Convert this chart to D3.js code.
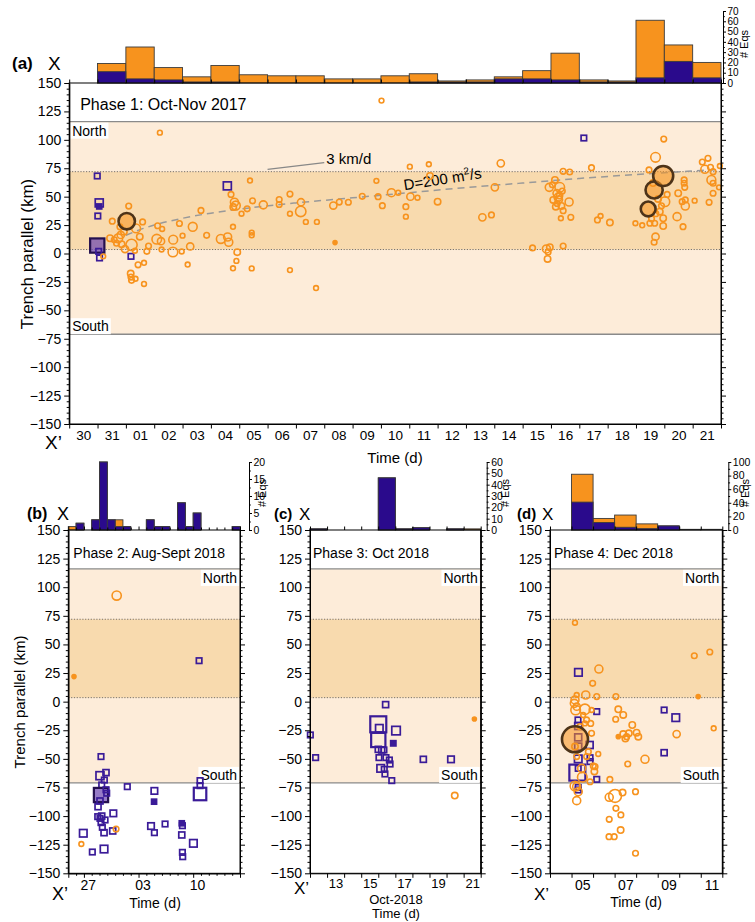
<!DOCTYPE html>
<html><head><meta charset="utf-8">
<script src="https://cdn.jsdelivr.net/npm/d3@7"></script>
<style>
body{margin:0;background:#fff;}
svg{display:block;}
text{font-family:'Liberation Sans',Arial,Helvetica,sans-serif;}
</style>
</head><body>
<svg id="c" width="755" height="922"></svg>
<script>
// ---------------- DATA ----------------
// Time in days from the start of each panel's window; km = trench-parallel distance; mag = event size class
// Phase 1: window starts 30 Oct 2017 00:00
const phase1DayLabels = ["30","31","01","02","03","04","05","06","07","08","09","10","11","12","13","14","15","16","17","18","19","20","21"];
const phase1HistTotal = [0,19,35,15,6,17,8,7,7,4,4,7,9,2,3,6,12,29,3,2,61,37,20];
const phase1HistBlue  = [0,11,4,3,1,1,0,0,0,0,0,0,1,1,1,4,4,3,1,1,5,21,5];
const phase1HistTicks = [0,10,20,30,40,50,60,70];
// [t, km, mag]
const phase1Circles = [
[3.2,106.3,1.2],[2.1,41.7,1.4],[2.03,28.4,4.1],[1.52,28.4,1.4],[1.44,13.4,1.6],[1.59,12,1.4],[1.67,9.1,1.4],
[1.73,13.4,2.2],[1.82,16.3,1.8],[1.93,19.2,1.6],[1.85,8.2,1.6],[1.97,3.9,1.8],[1.79,23.5,1.4],[2.2,7.6,2.8],
[2.36,22.1,2.2],[2.32,2.4,1.2],[2.49,14.8,1.6],[2.59,27.8,1.4],[2.74,1.9,1.4],[2.8,6.5,1.4],[2.43,-10,1.4],
[2.64,-8.2,1.2],[2.17,-17.7,1.6],[2.18,-20.7,1.4],[2.2,-23.6,1.4],[2.34,-22.2,1.2],[2.64,-26.8,1.2],[1.2,-2.5,1.2],
[3.12,24.4,1.4],[3.28,21.6,1.2],[3.09,12.6,2.4],[3.24,10.8,1.8],[3.26,3.5,1.2],[3.67,12.2,2.2],[3.66,1.3,2.4],
[3.89,26.4,1.4],[4.0,15.7,1.2],[3.97,1.8,1.2],[4.18,-9.7,1.2],[4.36,23.5,2.2],[4.27,6.2,1.8],[4.65,37.9,1.4],
[4.85,16,1.4],[5.35,12.8,2.2],[5.59,14.5,2],[5.63,9.9,2],[5.71,52,1.4],[5.78,23.5,1.2],[5.78,-13,1.2],
[5.83,45.1,2],[5.88,42.2,2.2],[5.79,40.8,1.6],[5.9,-6.5,1.2],[5.93,1.2,1.6],[6.08,35,1.2],[6.28,39.3,1.4],
[6.38,64.2,1.2],[6.47,46.3,1.4],[6.44,18.4,1.2],[6.44,16,1.2],[6.44,-13.1,1.2],[6.85,42.8,2],[7.41,47.4,1.4],
[7.41,43.1,1.4],[7.79,52.3,1.4],[7.79,35,1.2],[7.79,-14.6,1.2],[8.18,45.1,1.8],[8.17,37,2.6],[8.35,27.8,1.2],
[8.74,27.8,1.2],[8.71,-30.4,1.2],[9.32,42.2,1.8],[9.38,9.6,1],[9.53,45.2,1.4],[9.85,45.1,1.4],[10.34,50.3,1.4],
[10.84,63.9,1.2],[10.9,50,1.4],[11.02,134.5,1.2],[11.05,42.1,1.4],[11.37,53.5,2],[11.61,53.5,1.2],[11.88,41.2,1.4],
[11.88,32.4,1.2],[12.02,76.4,1.2],[12.04,50,1.8],[12.29,49.1,1.2],[12.69,78.5,1.2],[12.73,68.2,1.6],[13.0,45.6,1.6],
[14.58,31.8,1.8],[14.9,33.9,1.4],[15.02,58.2,1.8],[15.23,79.3,1.8],[16.35,4.9,1.4],[16.84,4,2],[16.96,5.5,1.6],
[16.9,1.4,1.4],[16.88,-4.8,1.6],[17.43,6.6,1.4],[16.94,58.2,2],[17.14,64.7,1.6],[17.31,58.2,2.4],[17.2,53,1.8],
[17.25,49.4,2],[17.08,47.1,1.6],[17.17,41.2,1.6],[17.37,41.8,1.6],[17.43,37.7,1.4],[17.64,45.3,2],[17.35,31,1.2],
[17.7,31.8,1.4],[17.43,72.3,1.4],[17.66,71.7,1.4],[18.43,75.5,1.4],[18.64,29.5,1.4],[18.75,33,1.2],[19.08,27.2,1.6],
[17.3,51,1.6],[17.4,55,1.4],[17.22,44,1.4],[17.05,60.5,1.4],[17.28,47.5,1.8],
[19.98,26.6,1.2],[20.22,24.8,1.2],[20.69,84.6,2.4],[20.98,100.7,1.4],[20.46,73.5,1.4],[21.02,45.6,2.4],
[20.84,36.8,1.6],[20.96,31,1.6],[20.49,26.6,1.4],[20.66,26.6,1.4],[20.96,24.2,1.6],[20.69,14.8,1.8],[20.64,9.9,1.4],
[20.55,30.5,1.4],[20.78,48,1.6],[20.9,42,1.4],[20.6,62,1.6],[21.1,52,1.4],[20.7,35,1.4],
[21.45,32.4,2],[21.7,64.7,1.4],[21.7,61.8,1.4],[21.72,58.2,1.4],[21.49,53,1.6],[21.63,45.6,1.4],[21.74,47.1,1.4],
[21.74,41.8,2],[21.66,23.6,1.4],[22.07,46.5,1.2],[22.34,80.5,1.4],[22.54,83.7,1.4],[22.43,74.1,2],[22.63,75.8,1.4],
[22.72,72,1.4],[22.66,64.7,2.2],[22.72,61.8,1.4],[22.93,58.2,1.2],[22.72,53,1.4],[22.58,45,1.4],[22.96,77,1.2],
[20.96,68.2,5],[20.64,55.9,4.3],[20.43,39.2,3.7]
];
// [t, km, mag, filled]
const phase1Squares = [
[0.99,68.2,1,0],[1.06,44.5,2,0],[1.06,41.4,0.8,1],[1.01,33,1,0],[0.99,7,4.5,1],[1.04,1.9,1,0],
[1.07,-3.9,1,0],[2.18,-2.5,1,0],[5.58,59.5,2,0],[18.16,101.6,1,0]
];
// diffusion front D = 200 m^2/s
const diffusionT  = [2.0,2.5,3.0,4.0,5.0,6.0,8.0,10.0,12.0,14.0,16.0,18.0,20.0,23.0];
const diffusionKm = [16,21,25,31,35.5,39,44.5,49,53.5,58,62,66,69.5,74];
const rateLineT  = [7.0,9.0];
const rateLineKm = [74,80];

// Phase 2: window starts 25 Aug 2018 00:00
const phase2LabelDays = [2,9,16];
const phase2Labels = ["27","03","10"];
const phase2HistTotal = [1,2,0,3,20,3,3,1,0,0,3,1,1,0,8,1,5,0,0,0,0,1];
const phase2HistBlue  = [0,2,0,3,20,3,1,1,0,0,3,1,1,0,8,1,5,0,0,0,0,1];
const phase2HistTicks = [0,5,10,15,20];
const phase2Circles = [[6.2,92.7,2.3],[0.73,21.9,1],[6.12,-111.3,1.4],[1.67,-124.4,1.2]];
const phase2Squares = [
[4.19,-48,1,0],[4.06,-64.7,2,0],[4.83,-62,1.2,0],[4.62,-68.5,1,0],[4.28,-72.8,1,0],[4.19,-81.6,4.5,1],
[4.83,-77,1,0],[4.92,-80,1,0],[4.06,-86.8,1.2,0],[3.81,-91.8,1.2,0],[3.77,-100.5,1,0],[4.28,-100,1.2,0],
[4.71,-103.4,1,0],[4.19,-105.7,1,0],[4.06,-102,1,0],[4.36,-109.8,1,0],[4.58,-114.5,1.2,0],[5.77,-97.6,1.4,0],
[5.69,-113,1.2,0],[4.58,-128.8,1.8,0],[3.08,-131.4,1,0],[1.92,-115,1.8,0],[7.56,-74.3,1,0],[11.03,-78,1.4,0],
[10.99,-87.4,0.8,1],[10.6,-108.7,1.4,0],[11.03,-114.5,1,0],[12.4,-106.9,1,0],[14.54,-106.3,0.8,1],[14.62,-108.4,1,0],
[14.54,-116.5,1.2,0],[14.62,-131.7,1,0],[14.66,-135.5,1,0],[16.03,-123.8,1.8,0],[16.88,-80.7,3.8,0],
[16.88,-69,1,0],[16.88,-73.4,1,0],[16.76,35.8,1,0]
];

// Phase 3: window starts 12 Oct 2018 00:00
const phase3LabelDays = [1,3,5,7,9];
const phase3Labels = ["13","15","17","19","21"];
const phase3HistTotal = [1,0,0,0,46,1,2,0,1,1];
const phase3HistBlue  = [1,0,0,0,46,1,2,0,1,0];
const phase3HistTicks = [0,10,20,30,40,50,60];
const phase3Circles = [[9.63,-15.1,1],[8.48,-82.1,1.6]];
const phase3Squares = [
[0.02,-29.1,1,0],[0.33,-48.9,1,0],[4.43,-2.6,1.2,0],[4.0,-19.8,5.2,0],[4.0,-33.5,4.5,0],[4.06,-23.3,1.8,0],
[5.04,-25.3,2.2,0],[4.88,-36.4,0.9,1],[4.0,-41.7,1.2,0],[4.2,-42.2,1.2,0],[4.33,-42.2,1,0],[4.04,-48.9,1,0],
[4.45,-48.9,1,0],[4.65,-51,1,0],[4.69,-54.5,1,0],[4.14,-58.3,1.8,0],[4.35,-59.1,1,0],[4.39,-63.2,1,0],
[4.79,-69,1,0],[6.64,-50.4,1.2,0],[8.26,-50.4,1.4,0]
];

// Phase 4: window starts 4 Dec 2018 00:00
const phase4LabelDays = [1,3,5,7];
const phase4Labels = ["05","07","09","11"];
const phase4HistTotal = [0,82,17,22,9,6,1,1];
const phase4HistBlue  = [0,41,11,4,2,6,0,0];
const phase4HistTicks = [0,20,40,60,80,100];
const phase4Circles = [
[1.16,69,1.2],[2.27,28.5,2],[6.7,40.1,1.4],[7.42,43.4,1.4],[1.98,16,1.4],[1.66,5.8,2],[2.17,4.4,1.4],
[1.24,5.8,1.2],[1.16,1.5,2],[1.13,-1.5,2],[1.24,-4.4,1.8],[1.19,-7.3,2.4],[1.62,-6.7,2.6],[1.93,-7.3,1.2],
[1.54,-11.7,1.2],[1.7,-16,1.4],[1.62,-19,1.2],[1.89,-19,1.4],[1.93,-27.7,1.4],[1.39,-21.8,1.4],[1.16,-39.3,1.6],
[1.24,-48,1.4],[1.78,-43.7,1.4],[1.7,-48,1.4],[2.01,-56.2,1.4],[1.47,-58.3,2],[1.5,-66,2.4],[1.24,-74.3,2],
[1.31,-78.7,2],[1.16,-73.7,2.4],[1.24,-86.5,2],[1.86,-70,1.4],[2.24,-45.7,1.2],[2.09,-56.8,1.4],[2.06,-61,1.6],
[2.78,-68,1.4],[3.06,4.4,1.4],[3.17,-6.7,1.6],[3.4,-11.6,1.6],[3.05,-15.4,1.4],[3.17,-30.6,1],[3.4,-28.3,1.6],
[3.56,-30.6,1.4],[3.66,-27.7,1.6],[3.5,-32.3,1.6],[3.82,-20.4,1.6],[4.02,-27.1,1.6],[4.1,-30.6,1.6],[4.41,-50.4,2],
[3.61,-54.5,1.4],[2.75,-83.6,2],[3.02,-82.4,3.2],[3.37,-79.5,1.6],[3.97,-78.7,1.4],[2.75,-102.8,1.4],[3.29,-99,1.4],
[3.06,-93.2,1.4],[2.74,-118,1.4],[2.98,-118,1.4],[3.28,-112.2,1.6],[3.97,-132.5,1.4],[5.88,-28.3,1.8],[6.88,4.4,1],
[7.6,-23.3,1.2],[1.16,-32.9,6.5]
];
const phase4Squares = [
[1.32,25.6,1.8,0],[1.3,-16,1,0],[1.31,-21.3,1.6,0],[1.31,-31.2,1.6,0],[1.31,-39.3,1.6,0],[1.84,-37.9,1.6,0],
[1.31,-50,1.8,0],[1.86,-49,1,0],[1.86,-52.4,1,0],[1.31,-58.3,1,0],[1.27,-62,5.2,0],[1.31,-75,1,0],[1.31,-77.2,1,0],
[2.17,-8.7,1,0],[2.17,-67.9,1,0],[5.3,-7.3,1,0],[5.84,-14,1.8,0],[5.3,-44.6,1.2,0]
];

// zone boundaries (km)
const northTopKm = 116, zoneTopKm = 72, zoneBottomKm = 3.5, southBottomKm = -71;

// ---------------- DRAWING ----------------
const FONT = "'Liberation Sans', Arial, Helvetica, sans-serif";
const ORANGE = '#f7931e', PURPLE = '#3a1b98', HISTBLUE = '#2a0a8c';
const BAND_LIGHT = '#fdecd9', BAND_DARK = '#f8daae';
const svg = d3.select('#c');

function styleAxis(sel, size) {
  sel.attr('font-family', FONT).attr('font-size', size);
  sel.selectAll('path.domain').attr('stroke', '#000').attr('stroke-width', 1);
  sel.selectAll('line').attr('stroke', '#000').attr('stroke-width', 1);
  sel.selectAll('text').attr('fill', '#000');
}

function panel(o) {
  const g = svg.append('g');
  const x = d3.scaleLinear().domain([0, o.days]).range([o.left, o.right]);
  const y = d3.scaleLinear().domain([-150, 150]).range([o.bottom, o.top]);
  const rad = d3.scaleLinear().domain([1, 5]).range([2, 10]);
  const side = d3.scaleLinear().domain([1, 5]).range([5.5, 15.5]);
  const W = o.right - o.left;

  // background zones
  g.append('rect').attr('x', o.left).attr('y', o.top).attr('width', W).attr('height', o.bottom - o.top).attr('fill', '#fff');
  g.append('rect').attr('x', o.left).attr('y', y(northTopKm)).attr('width', W)
    .attr('height', y(southBottomKm) - y(northTopKm)).attr('fill', BAND_LIGHT);
  g.append('rect').attr('x', o.left).attr('y', y(zoneTopKm)).attr('width', W)
    .attr('height', y(zoneBottomKm) - y(zoneTopKm)).attr('fill', BAND_DARK);
  [northTopKm, southBottomKm].forEach(k => g.append('line').attr('x1', o.left).attr('x2', o.right)
    .attr('y1', y(k)).attr('y2', y(k)).attr('stroke', '#8a8a8a').attr('stroke-width', 1.4));
  [zoneTopKm, zoneBottomKm].forEach(k => g.append('line').attr('x1', o.left).attr('x2', o.right)
    .attr('y1', y(k)).attr('y2', y(k)).attr('stroke', '#555').attr('stroke-width', 0.8).attr('stroke-dasharray', '1.2,1.6'));

  // North / South labels
  const lab = (txt, k, pos) => {
    const t = g.append('text').text(txt).attr('font-size', 14).attr('fill', '#000');
    let tx, ty;
    if (o.labelsLeft) { tx = o.left + 3; t.attr('text-anchor', 'start'); }
    else { tx = o.right - 3; t.attr('text-anchor', 'end'); }
    ty = pos === 'below' ? y(k) + 14 : y(k) - 3;
    t.attr('x', tx).attr('y', ty);
    const bb = t.node().getBBox();
    g.insert('rect', () => t.node()).attr('x', bb.x - 2).attr('y', bb.y).attr('width', bb.width + 4)
      .attr('height', bb.height).attr('fill', '#fff');
  };
  lab('North', northTopKm, 'below');
  lab('South', southBottomKm, 'above');

  // phase title
  g.append('text').attr('x', o.left + o.titleDx).attr('y', o.top + o.titleDy).attr('font-size', o.titleSize)
    .text(o.title);

  if (o.extra) o.extra(g, x, y);

  // squares (purple)
  g.selectAll('rect.sq').data(o.squares).join('rect').attr('class', 'sq')
    .attr('x', d => x(d[0]) - side(d[2]) / 2).attr('y', d => y(d[1]) - side(d[2]) / 2)
    .attr('width', d => side(d[2])).attr('height', d => side(d[2]))
    .attr('fill', d => d[3] ? (d[2] > 3 ? 'rgba(110,72,178,0.72)' : PURPLE) : 'none')
    .attr('stroke', d => d[3] && d[2] > 3 ? '#24104f' : PURPLE)
    .attr('stroke-width', d => d[2] > 3 ? 2.2 : 1.7);

  // circles (orange)
  const circ = o.circles.slice().sort((a, b) => a[2] - b[2]);
  g.selectAll('circle.eq').data(circ).join('circle').attr('class', 'eq')
    .attr('cx', d => x(d[0])).attr('cy', d => y(d[1])).attr('r', d => rad(d[2]))
    .attr('fill', d => d[2] >= 3.5 ? 'rgba(247,147,30,0.55)' : (d[2] <= 1 ? ORANGE : 'none'))
    .attr('stroke', d => d[2] >= 3.5 ? '#4d3318' : ORANGE)
    .attr('stroke-width', d => d[2] >= 3.5 ? 2.6 : 1.6);

  // histogram
  const hy = d3.scaleLinear().domain([0, o.histMax]).range([o.top, o.histTop]);
  const bars = (arr, col) => g.append('g').selectAll('rect').data(arr.map((v, i) => [i, v]).filter(d => d[1] > 0))
    .join('rect').attr('x', d => x(d[0])).attr('width', d => x(d[0] + 1) - x(d[0]))
    .attr('y', d => hy(d[1])).attr('height', d => o.top - hy(d[1]))
    .attr('fill', col).attr('stroke', '#3b3b3b').attr('stroke-width', 0.9);
  bars(o.histTotal, ORANGE);
  bars(o.histBlue, HISTBLUE);

  // frame
  g.append('rect').attr('x', o.left).attr('y', o.top).attr('width', W).attr('height', o.bottom - o.top)
    .attr('fill', 'none').attr('stroke', '#000').attr('stroke-width', 1);

  // y axes
  const major = d3.range(-150, 151, 25), minor = d3.range(-150, 151, 5).filter(v => v % 25 !== 0);
  const yl = g.append('g').attr('transform', `translate(${o.left},0)`)
    .call(d3.axisLeft(y).tickValues(major).tickSize(5).tickSizeOuter(0).tickPadding(3).tickFormat(d3.format('d')));
  styleAxis(yl, o.yTickSize);
  const yl2 = g.append('g').attr('transform', `translate(${o.left},0)`)
    .call(d3.axisLeft(y).tickValues(minor).tickSize(2.5).tickSizeOuter(0).tickFormat(''));
  styleAxis(yl2, 10);
  const yr = g.append('g').attr('transform', `translate(${o.right},0)`)
    .call(d3.axisRight(y).tickValues(major).tickSize(5).tickSizeOuter(0).tickFormat(''));
  styleAxis(yr, 10);
  const yr2 = g.append('g').attr('transform', `translate(${o.right},0)`)
    .call(d3.axisRight(y).tickValues(minor).tickSize(2.5).tickSizeOuter(0).tickFormat(''));
  styleAxis(yr2, 10);

  // x axes
  const allDays = d3.range(0, o.days + 1);
  const majDays = o.majorTickDays || allDays;
  const minDays = allDays.filter(d => majDays.indexOf(d) < 0);
  const xb = g.append('g').attr('transform', `translate(0,${o.bottom})`)
    .call(d3.axisBottom(x).tickValues(majDays).tickSize(4.5).tickSizeOuter(0).tickFormat(''));
  styleAxis(xb, 10);
  if (minDays.length) {
    const xb2 = g.append('g').attr('transform', `translate(0,${o.bottom})`)
      .call(d3.axisBottom(x).tickValues(minDays).tickSize(2.5).tickSizeOuter(0).tickFormat(''));
    styleAxis(xb2, 10);
  }
  const xl = g.append('g').attr('transform', `translate(0,${o.bottom})`)
    .call(d3.axisBottom(x).tickValues(o.labelDays.map(d => d + 0.5)).tickSize(0).tickPadding(o.xLabelPad)
      .tickFormat((d, i) => o.labels[i]));
  styleAxis(xl, o.xTickSize);
  xl.select('path.domain').remove();
  const xt = g.append('g').attr('transform', `translate(0,${o.top})`)
    .call(d3.axisTop(x).tickValues(majDays).tickSize(3.5).tickSizeOuter(0).tickFormat(''));
  styleAxis(xt, 10);
  xt.select('path.domain').remove();
  if (minDays.length) {
    const xt2 = g.append('g').attr('transform', `translate(0,${o.top})`)
      .call(d3.axisTop(x).tickValues(minDays).tickSize(2.5).tickSizeOuter(0).tickFormat(''));
    styleAxis(xt2, 10);
    xt2.select('path.domain').remove();
  }

  // histogram axis
  const hTicks = o.histTicks;
  const hMinor = d3.range(0, o.histMax + 0.001, (hTicks[1] - hTicks[0]) / 2).filter(v => hTicks.indexOf(v) < 0);
  const ha = g.append('g').attr('transform', `translate(${o.right + o.histAxisDx},0)`)
    .call(d3.axisRight(hy).tickValues(hTicks).tickSize(3).tickSizeOuter(0).tickPadding(1.5));
  styleAxis(ha, o.histTickSize);
  const ha2 = g.append('g').attr('transform', `translate(${o.right + o.histAxisDx},0)`)
    .call(d3.axisRight(hy).tickValues(hMinor).tickSize(1.8).tickSizeOuter(0).tickFormat(''));
  styleAxis(ha2, 10);
  ha2.select('path.domain').remove();
  g.append('text').attr('transform', `translate(${o.eqsX},${(o.top + o.histTop) / 2 - 3}) rotate(-90)`)
    .attr('text-anchor', 'middle').attr('font-size', 11).text('# Eqs');

  // panel letters
  g.append('text').attr('x', o.letterX).attr('y', o.letterY).attr('font-size', o.letterSize).attr('font-weight', 'bold').text(o.letter);
  g.append('text').attr('x', o.xMarkX).attr('y', o.letterY + 1).attr('font-size', o.letterSize + 2).text('X');
  g.append('text').attr('x', o.xMarkX2).attr('y', o.xpY).attr('font-size', o.letterSize + 2).text('X\u2019');

  return {g, x, y};
}

// Panel (a)
panel({
  left: 69.2, right: 721, top: 83, bottom: 424, days: 23,
  circles: phase1Circles, squares: phase1Squares,
  histTotal: phase1HistTotal, histBlue: phase1HistBlue, histMax: 70, histTop: 11, histTicks: phase1HistTicks,
  histAxisDx: 2, histTickSize: 10, eqsX: 748,
  labelDays: d3.range(0, 23), labels: phase1DayLabels, xTickSize: 13.5, xLabelPad: 6,
  yTickSize: 14, labelsLeft: true,
  title: 'Phase 1: Oct-Nov 2017', titleDx: 11, titleDy: 27, titleSize: 16,
  letter: '(a)', letterX: 12, letterY: 69, letterSize: 17, xMarkX: 48, xMarkX2: 45, xpY: 449,
  extra: (g, x, y) => {
    const line = d3.line().x(d => x(d[0])).y(d => y(d[1])).curve(d3.curveMonotoneX);
    g.append('path').datum(diffusionT.map((t, i) => [t, diffusionKm[i]])).attr('d', line)
      .attr('fill', 'none').attr('stroke', '#999').attr('stroke-width', 1.5).attr('stroke-dasharray', '7,5');
    g.append('path').datum(rateLineT.map((t, i) => [t, rateLineKm[i]])).attr('d', d3.line().x(d => x(d[0])).y(d => y(d[1])))
      .attr('stroke', '#888').attr('stroke-width', 1.2).attr('fill', 'none');
    g.append('text').attr('x', x(rateLineT[1]) + 2).attr('y', y(rateLineKm[1]) + 1).attr('font-size', 15).text('3 km/d');
    const t = g.append('text').attr('transform', `translate(${x(13.2)},${y(61)}) rotate(-9)`)
      .attr('text-anchor', 'middle').attr('font-size', 15);
    t.append('tspan').text('D=200 m');
    t.append('tspan').attr('dy', -6).attr('font-size', 10).text('2');
    t.append('tspan').attr('dy', 6).text('/s');
  }
});
// Panel (b)
panel({
  left: 68.3, right: 240, top: 530, bottom: 873.3, days: 22,
  circles: phase2Circles, squares: phase2Squares,
  histTotal: phase2HistTotal, histBlue: phase2HistBlue, histMax: 20, histTop: 462, histTicks: phase2HistTicks,
  histAxisDx: 9, histTickSize: 10.5, eqsX: 266,
  majorTickDays: phase2LabelDays.concat([22]).concat([0]),
  labelDays: phase2LabelDays, labels: phase2Labels, xTickSize: 14, xLabelPad: 7,
  yTickSize: 14, labelsLeft: false,
  title: 'Phase 2: Aug-Sept 2018', titleDx: 5, titleDy: 28, titleSize: 14,
  letter: '(b)', letterX: 27, letterY: 519, letterSize: 16, xMarkX: 57, xMarkX2: 52, xpY: 900
});
// Panel (c)
panel({
  left: 310, right: 480.7, top: 530, bottom: 873.3, days: 10,
  circles: phase3Circles, squares: phase3Squares,
  histTotal: phase3HistTotal, histBlue: phase3HistBlue, histMax: 60, histTop: 462, histTicks: phase3HistTicks,
  histAxisDx: 6, histTickSize: 10.5, eqsX: 509,
  labelDays: phase3LabelDays, labels: phase3Labels, xTickSize: 13, xLabelPad: 5,
  yTickSize: 14, labelsLeft: false,
  title: 'Phase 3: Oct 2018', titleDx: 3, titleDy: 28, titleSize: 14,
  letter: '(c)', letterX: 274, letterY: 519, letterSize: 15, xMarkX: 299, xMarkX2: 294, xpY: 894
});
// Panel (d)
panel({
  left: 550, right: 722.3, top: 530, bottom: 873.3, days: 8,
  circles: phase4Circles, squares: phase4Squares,
  histTotal: phase4HistTotal, histBlue: phase4HistBlue, histMax: 100, histTop: 462, histTicks: phase4HistTicks,
  histAxisDx: 6, histTickSize: 10.5, eqsX: 749,
  labelDays: phase4LabelDays, labels: phase4Labels, xTickSize: 14, xLabelPad: 7,
  yTickSize: 14, labelsLeft: false,
  title: 'Phase 4: Dec 2018', titleDx: 4, titleDy: 28, titleSize: 14,
  letter: '(d)', letterX: 517, letterY: 519, letterSize: 15, xMarkX: 542, xMarkX2: 534, xpY: 900
});

// axis titles
svg.append('text').attr('x', 395).attr('y', 463).attr('text-anchor', 'middle').attr('font-size', 15).text('Time (d)');
svg.append('text').attr('x', 155).attr('y', 908).attr('text-anchor', 'middle').attr('font-size', 14).text('Time (d)');
svg.append('text').attr('x', 396).attr('y', 904).attr('text-anchor', 'middle').attr('font-size', 13).text('Oct-2018');
svg.append('text').attr('x', 396).attr('y', 918).attr('text-anchor', 'middle').attr('font-size', 13).text('Time (d)');
svg.append('text').attr('x', 636).attr('y', 907).attr('text-anchor', 'middle').attr('font-size', 14).text('Time (d)');
svg.append('text').attr('transform', 'translate(33,254) rotate(-90)').attr('text-anchor', 'middle').attr('font-size', 17)
  .text('Trench parallel (km)');
svg.append('text').attr('transform', 'translate(25,702) rotate(-90)').attr('text-anchor', 'middle').attr('font-size', 15)
  .text('Trench parallel (km)');
</script>
</body></html>
